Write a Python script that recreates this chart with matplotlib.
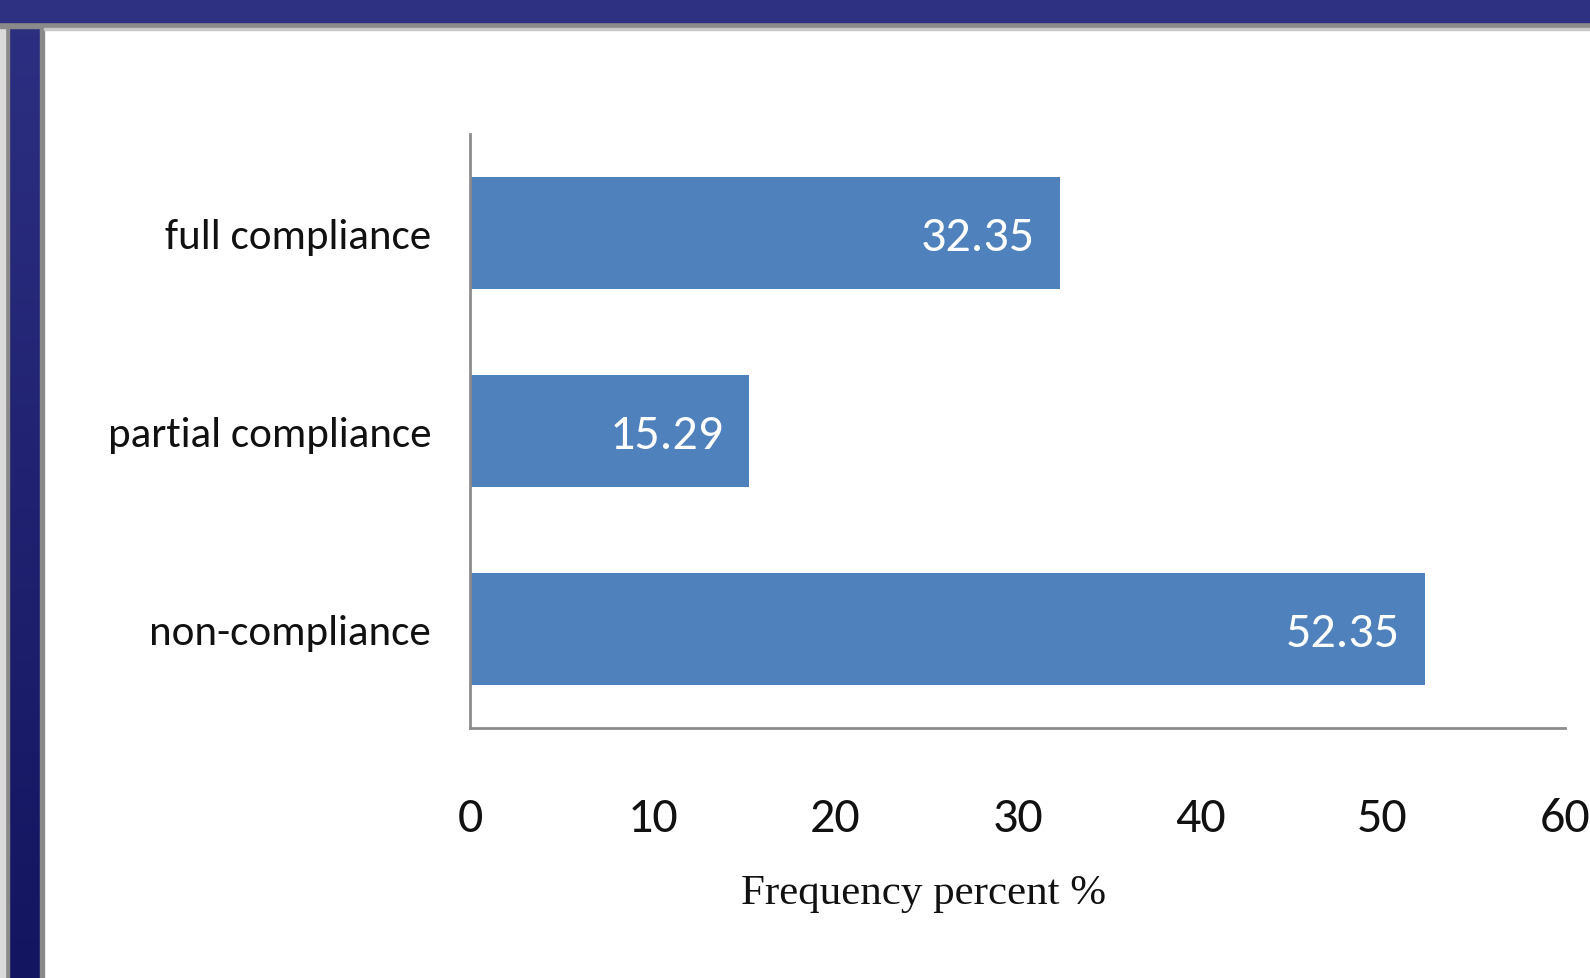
import matplotlib
matplotlib.use("Agg")
import matplotlib.pyplot as plt
import numpy as np
from matplotlib.patches import Rectangle
from matplotlib.colors import LinearSegmentedColormap
from matplotlib import font_manager

categories = ["full compliance", "partial compliance", "non-compliance"]
values = [32.35, 15.29, 52.35]
xticks = [0, 10, 20, 30, 40, 50, 60]
xlabel = "Frequency percent %"

names = {f.name for f in font_manager.fontManager.ttflist}
sans = [n for n in ["Carlito", "IBM Plex Sans Condensed", "Liberation Sans"] if n in names] + ["DejaVu Sans"]
serif = [n for n in ["Liberation Serif", "Tinos", "DejaVu Serif"] if n in names]

W, H = 1590, 979
fig = plt.figure(figsize=(W / 100, H / 100), dpi=100)
fig.patch.set_facecolor("white")

def fx(px):
    return px / W

def fy(py):
    return 1 - py / H

# left vertical band with gradient
bg = fig.add_axes([fx(9), 0, fx(40) - fx(9), 1])
grad = np.linspace(0, 1, 256).reshape(-1, 1)
cmap = LinearSegmentedColormap.from_list("b", ["#2D2F82", "#141560"])
bg.imshow(grad, aspect="auto", cmap=cmap, extent=[0, 1, 0, 1], origin="upper")
bg.set_axis_off()

fig.patches.append(Rectangle((fx(5), 0), fx(4), fy(23), transform=fig.transFigure, color="#8A8A8A", zorder=0))
fig.patches.append(Rectangle((fx(40), 0), fx(4), fy(23), transform=fig.transFigure, color="#8A8A8A", zorder=0))
fig.patches.append(Rectangle((fx(0), 0), fx(5), fy(29), transform=fig.transFigure, color="#DADADA", zorder=0))
fig.patches.append(Rectangle((fx(0), fy(29)), 1, fy(23) - fy(29), transform=fig.transFigure, color="#8A8A8A", zorder=0))
fig.patches.append(Rectangle((fx(44), fy(31)), 1, fy(29) - fy(31), transform=fig.transFigure, color="#C8C8C8", zorder=0))
fig.patches.append(Rectangle((0, fy(23)), 1, 1 - fy(23), transform=fig.transFigure, color="#2E3082", zorder=0))

ax = fig.add_axes([fx(470), fy(729), fx(1565) - fx(470), fy(135) - fy(729)])
ax.set_facecolor("none")
y = np.arange(len(categories))
ax.barh(y, values, height=0.57, color="#4F81BD", zorder=2)
ax.set_ylim(len(categories) - 0.5, -0.5)
ax.set_xlim(0, 60)
ax.set_yticks(y)
ax.set_yticklabels(categories, fontsize=31, family=sans, color="#111111")
ax.set_xticks(xticks)
ax.set_xticklabels([str(t) for t in xticks], fontsize=36, family=sans, color="#111111")
ax.tick_params(axis="both", length=0)
ax.tick_params(axis="y", pad=28)
ax.tick_params(axis="x", pad=50)
for s in ["top", "right"]:
    ax.spines[s].set_visible(False)
for s in ["left", "bottom"]:
    ax.spines[s].set_color("#8C8C8C")
    ax.spines[s].set_linewidth(2)
ax.set_xlabel(xlabel, fontsize=31, family=serif, color="#111111")
ax.xaxis.label.set_va("center")
ax.xaxis.set_label_coords((924 - 470) / 1095, (729 - 894) / 594)

for yi, v in zip(y, values):
    ax.text(v - 1.4, yi, f"{v:.2f}", ha="right", va="center_baseline", fontsize=36,
            family=sans, color="white", zorder=3)

fig.savefig("out.png", dpi=100)
